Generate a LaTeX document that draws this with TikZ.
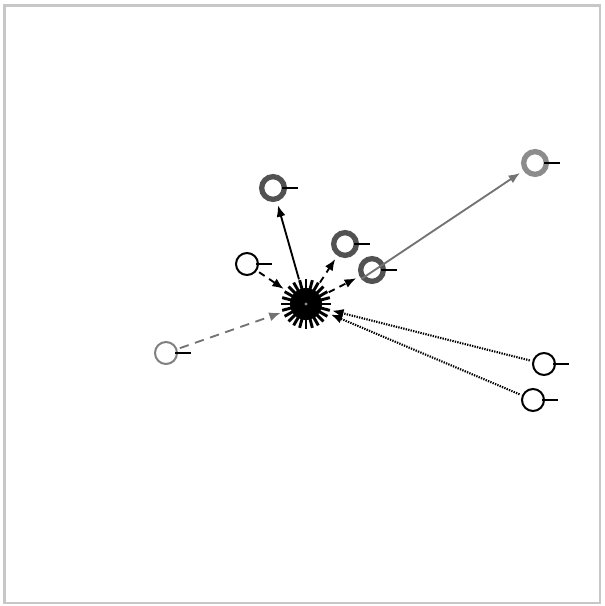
\documentclass[tikz,border=0pt]{standalone}
\usepackage{tikz}
\usetikzlibrary{arrows.meta}

\begin{document}
\begin{tikzpicture}[x=0.75pt, y=-0.75pt,
      hb/.style={circle, minimum size=34pt, inner sep=0pt},
      rk/.style={circle, draw=black!68, line width=4pt, minimum size=17pt, inner sep=0pt},
      rl/.style={rk, draw=black!45},
      rt/.style={circle, draw=black, line width=1.5pt, minimum size=16.5pt, inner sep=0pt},
      rg/.style={rt, draw=black!50},
      tk/.style={line width=1.3pt},
      arr/.style={-{Latex[length=3mm, width=2.4mm]}, line width=1.4pt, shorten >=3pt, shorten <=2pt},
      dsh/.style={arr, dash pattern=on 5pt off 4pt},
      dtt/.style={arr, line width=1.6pt, dash pattern=on 1pt off 0.9pt}]
    \useasboundingbox (0,0) rectangle (605,606);
    \draw[black!22, line width=2.2pt] (4.5,5.5) rectangle (600,603);
    % hub with its teeth
    \node[hb] (hub) at (306,304) {};
    \foreach \a in {0,15,...,345} {
      \draw[line width=2.2pt] (hub.center) ++(\a:10pt) -- ++(\a:8.5pt);
    }
    \fill (hub.center) circle (12pt);
    \fill[black!45] (hub.center) circle (1.2pt);
    % rings round the hub
    \node[rk] (A) at (273,188) {};
    \node[rk] (B) at (345,244) {};
    \node[rk] (C) at (372,270) {};
    \node[rl] (D) at (535,163) {};
    \node[rt] (E) at (247,264) {};
    \node[rt] (F) at (544,364) {};
    \node[rt] (G) at (533,400) {};
    \node[rg] (H) at (166,353) {};
    \foreach \n in {A,B,C,D,E,F,G,H} {
      \draw[tk] ([xshift=7pt]\n.center) -- ([xshift=19pt]\n.center);
    }
    % links
    \draw[arr, black!55, shorten <=0pt] (C.220) -- (D);
    \draw[arr] (hub) -- (A);
    \draw[dsh] (hub) -- (B);
    \draw[dsh] (hub) -- (C);
    \draw[dsh] (E) -- (hub);
    \draw[dsh, black!55, dash pattern=on 7pt off 5pt] (H) -- (hub);
    \draw[dtt] (F) -- (hub);
    \draw[dtt] (G) -- (hub);
  \end{tikzpicture}
\end{document}
